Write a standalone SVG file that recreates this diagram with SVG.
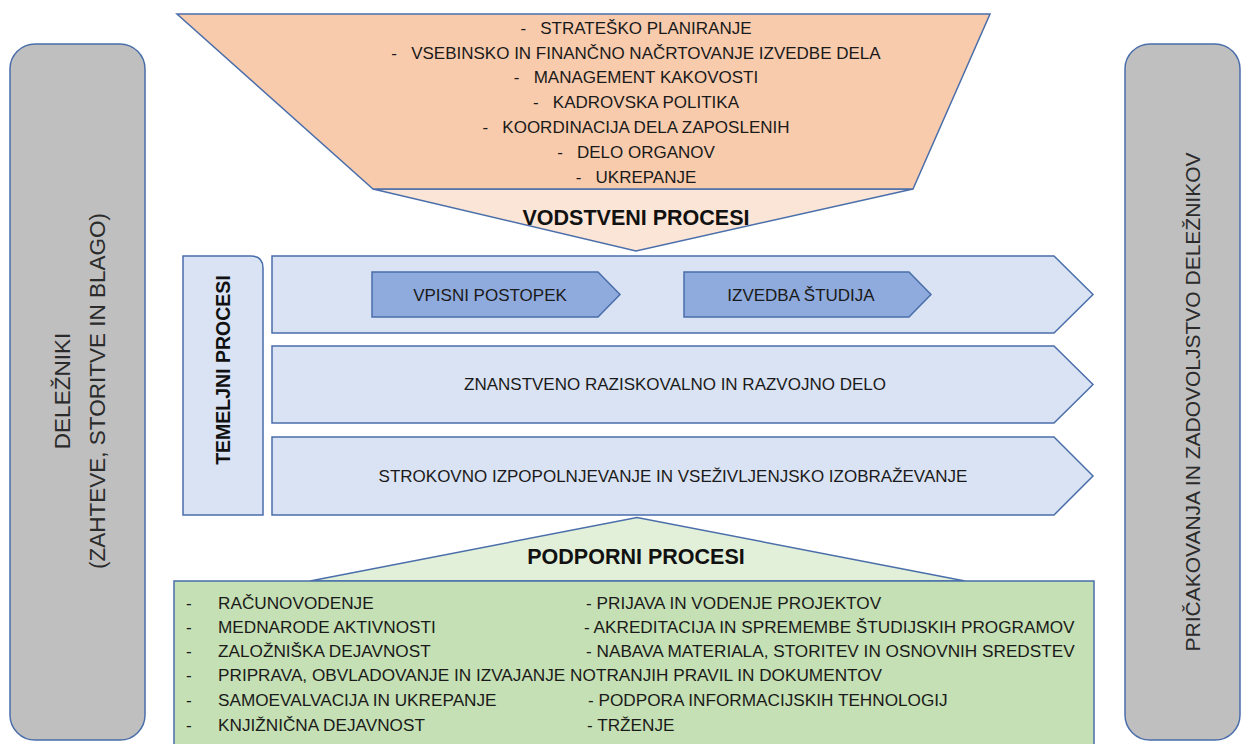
<svg xmlns="http://www.w3.org/2000/svg" width="1249" height="744" viewBox="0 0 1249 744">
<style>
.s{stroke:#4A6EAA;stroke-width:1.5;stroke-linejoin:miter}
.t{font-family:"Liberation Sans",Arial,sans-serif;font-size:17px;fill:#1a1a1a}
.c{text-anchor:middle}
.p{white-space:pre}
.b{font-weight:bold;font-size:21.5px;fill:#111}
.g{font-family:"Liberation Sans",Arial,sans-serif;font-size:21px;fill:#2b2b2b;text-anchor:middle}
.l{font-family:"Liberation Sans",Arial,sans-serif;font-size:17.2px;fill:#1a1a1a}
</style>
<rect width="1249" height="744" fill="#ffffff"/>
<g id="stakeholders-in">
<rect class="s" x="10" y="44" width="135" height="696" rx="25" fill="#BFBFBF"/>
<text class="g" style="font-size:22.5px" transform="translate(70,391) rotate(-90)">DELEŽNIKI</text>
<text class="g" style="font-size:22.5px" transform="translate(105,391) rotate(-90)">(ZAHTEVE, STORITVE IN BLAGO)</text>
</g>
<g id="stakeholders-out">
<rect class="s" x="1125" y="44" width="115" height="696" rx="25" fill="#BFBFBF"/>
<text class="g" transform="translate(1200,402) rotate(-90)">PRIČAKOVANJA IN ZADOVOLJSTVO DELEŽNIKOV</text>
</g>
<g id="vodstveni">
<path class="s" d="M373,189 L913,189 L636,251 Z" fill="#FBE5D6"/>
<path class="s" d="M177,14 H990 L913,189 H373 Z" fill="#F8CBAD"/>
<text class="t c p" xml:space="preserve" x="636" y="34">-   STRATEŠKO PLANIRANJE</text>
<text class="t c p" xml:space="preserve" x="636" y="59">-   VSEBINSKO IN FINANČNO NAČRTOVANJE IZVEDBE DELA</text>
<text class="t c p" xml:space="preserve" x="636" y="83">-   MANAGEMENT KAKOVOSTI</text>
<text class="t c p" xml:space="preserve" x="636" y="108">-   KADROVSKA POLITIKA</text>
<text class="t c p" xml:space="preserve" x="636" y="133">-   KOORDINACIJA DELA ZAPOSLENIH</text>
<text class="t c p" xml:space="preserve" x="636" y="158">-   DELO ORGANOV</text>
<text class="t c p" xml:space="preserve" x="636" y="183">-   UKREPANJE</text>
<text class="t c b" x="636" y="224.5">VODSTVENI PROCESI</text>
</g>
<g id="temeljni">
<path class="s" d="M183,256 H251 Q263,256 263,268 V515 H183 Z" fill="#DAE3F3"/>
<text transform="translate(229.5,370) rotate(-90)" text-anchor="middle" font-family="Liberation Sans, Arial, sans-serif" font-weight="bold" font-size="19.5" fill="#111">TEMELJNI PROCESI</text>
</g>
<g id="studij">
<path class="s" d="M272,256 H1054 L1093,294.5 L1054,333 H272 Z" fill="#DAE3F3"/>
</g>
<g id="vpisni">
<path class="s" d="M372,272 H598 L620,294.5 L598,317 H372 Z" fill="#8FAADC"/>
<text class="t c" x="490" y="300.5">VPISNI POSTOPEK</text>
</g>
<g id="izvedba">
<path class="s" d="M684,272 H909 L931,294.5 L909,317 H684 Z" fill="#8FAADC"/>
<text class="t c" x="801" y="300.5">IZVEDBA ŠTUDIJA</text>
</g>
<g id="raziskovalno">
<path class="s" d="M272,346 H1054 L1093,384.5 L1054,423 H272 Z" fill="#DAE3F3"/>
<text class="t c" x="675" y="390">ZNANSTVENO RAZISKOVALNO IN RAZVOJNO DELO</text>
</g>
<g id="izobrazevanje">
<path class="s" d="M272,437 H1054 L1093,476 L1054,515 H272 Z" fill="#DAE3F3"/>
<text class="t c" x="673" y="482">STROKOVNO IZPOPOLNJEVANJE IN VSEŽIVLJENJSKO IZOBRAŽEVANJE</text>
</g>
<g id="podporni">
<path class="s" d="M310,581 L637,517.5 L965,581 Z" fill="#E2F0D9"/>
<rect class="s" x="174" y="581" width="920" height="175" fill="#C5E0B4"/>
<text class="t c b" x="636" y="563.5">PODPORNI PROCESI</text>
<g class="l">
<text x="186" y="609">-</text><text x="218" y="609">RAČUNOVODENJE</text><text x="586" y="609">- PRIJAVA IN VODENJE PROJEKTOV</text>
<text x="186" y="633">-</text><text x="218" y="633">MEDNARODE AKTIVNOSTI</text><text x="584" y="633">- AKREDITACIJA IN SPREMEMBE ŠTUDIJSKIH PROGRAMOV</text>
<text x="186" y="657">-</text><text x="218" y="657">ZALOŽNIŠKA DEJAVNOST</text><text x="586" y="657">- NABAVA MATERIALA, STORITEV IN OSNOVNIH SREDSTEV</text>
<text x="186" y="681">-</text><text x="218" y="681">PRIPRAVA, OBVLADOVANJE IN IZVAJANJE NOTRANJIH PRAVIL IN DOKUMENTOV</text>
<text x="186" y="706">-</text><text x="218" y="706">SAMOEVALVACIJA IN UKREPANJE</text><text x="588" y="706">- PODPORA INFORMACIJSKIH TEHNOLOGIJ</text>
<text x="186" y="731">-</text><text x="218" y="731">KNJIŽNIČNA DEJAVNOST</text><text x="587" y="731">- TRŽENJE</text>
</g>
</g>
</svg>
